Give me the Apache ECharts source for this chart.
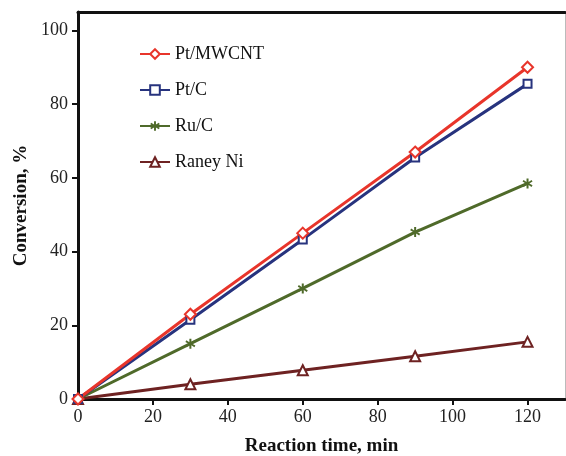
<!DOCTYPE html>
<html>
<head>
<meta charset="utf-8">
<script src="https://cdn.jsdelivr.net/npm/echarts@6/dist/echarts.min.js"></script>
<style>
  html, body { margin: 0; padding: 0; background: #fff; }
  #chart { width: 566px; height: 456px; }
</style>
</head>
<body>
<div id="chart"></div>
<script>
// reaction time, min
var times = [0, 30, 60, 90, 120];
// conversion, %
var ptMwcnt = [0, 23, 45, 67, 90];
var ptC = [0, 21.5, 43.3, 65.5, 85.5];
var ruC = [0, 15, 30, 45.3, 58.5];
var raneyNi = [0, 4, 7.8, 11.6, 15.5];

var names = ['Pt/MWCNT', 'Pt/C', 'Ru/C', 'Raney Ni'];
var xTicks = [0, 20, 40, 60, 80, 100, 120];
var yTicks = [0, 20, 40, 60, 80, 100];

var asterisk = 'path://M4,0L6,0L6,3.5L9,1.5L10,3.2L6.8,5L10,6.8L9,8.5L6,6.5L6,10L4,10L4,6.5L1,8.5L0,6.8L3.2,5L0,3.2L1,1.5L4,3.5Z';

function pairs(ys) {
    return times.map(function (t, i) { return [t, ys[i]]; });
}

function line(name, ys, color, symbol, size, filled) {
    return {
        name: name,
        type: 'line',
        data: pairs(ys),
        symbol: symbol,
        symbolSize: size,
        showSymbol: true,
        lineStyle: { color: color, width: 3 },
        itemStyle: {
            color: filled ? color : '#fff',
            borderColor: color,
            borderWidth: filled ? 0 : 2
        },
        emphasis: { disabled: true }
    };
}

var chart = echarts.init(document.getElementById('chart'));
var font = 'Liberation Serif';

chart.setOption({
    animation: false,
    textStyle: { fontFamily: font },
    grid: { left: 78, right: 1, top: 12, bottom: 57, containLabel: false, outerBoundsMode: 'none' },
    legend: {
        orient: 'vertical',
        left: 134,
        top: 40,
        itemGap: 18,
        itemWidth: 30,
        itemHeight: 12,
        textStyle: { fontFamily: font, fontSize: 18, color: '#111' },
        data: names
    },
    xAxis: [{
        type: 'value',
        min: 0,
        max: 130,
        name: 'Reaction time, min',
        nameLocation: 'middle',
        nameGap: 38,
        nameTextStyle: { fontFamily: font, fontSize: 19, fontWeight: 'bold', color: '#111' },
        axisLine: { lineStyle: { color: '#111', width: 3 } },
        axisTick: { length: 6, customValues: xTicks, lineStyle: { color: '#111', width: 2 } },
        axisLabel: { fontFamily: font, fontSize: 18, color: '#222', margin: 9, customValues: xTicks },
        splitLine: { show: false }
    }, {
        type: 'value',
        position: 'top',
        min: 0,
        max: 130,
        axisLine: { show: true, onZero: false, lineStyle: { color: '#111', width: 3 } },
        axisTick: { show: false },
        axisLabel: { show: false },
        splitLine: { show: false }
    }],
    yAxis: [{
        type: 'value',
        min: 0,
        max: 105,
        name: 'Conversion, %',
        nameLocation: 'middle',
        nameGap: 45,
        nameTextStyle: { fontFamily: font, fontSize: 19, fontWeight: 'bold', color: '#111' },
        axisLine: { show: true, lineStyle: { color: '#111', width: 3 } },
        axisTick: { show: true, length: 6, customValues: yTicks, lineStyle: { color: '#111', width: 2 } },
        axisLabel: { fontFamily: font, fontSize: 18, color: '#222', margin: 10, customValues: yTicks },
        splitLine: { show: false }
    }, {
        type: 'value',
        position: 'right',
        min: 0,
        max: 105,
        axisLine: { show: true, onZero: false, lineStyle: { color: '#bbb', width: 1 } },
        axisTick: { show: false },
        axisLabel: { show: false },
        splitLine: { show: false }
    }],
    series: [
        line('Raney Ni', raneyNi, '#6e2222', 'triangle', 10, false),
        line('Ru/C', ruC, '#4f6a2a', asterisk, 10, true),
        line('Pt/C', ptC, '#27337e', 'rect', 8, false),
        line('Pt/MWCNT', ptMwcnt, '#e8352b', 'diamond', 11, false)
    ]
});
</script>
</body>
</html>
